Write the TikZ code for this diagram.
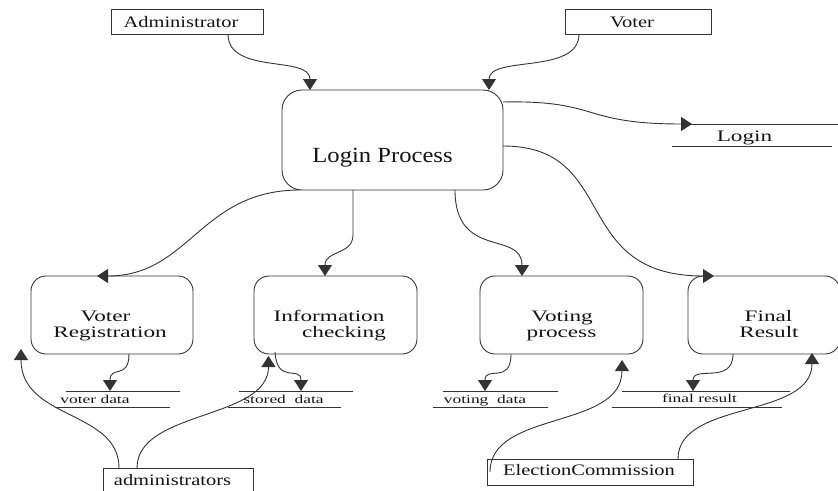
\documentclass[tikz,border=0pt]{standalone}
\usepackage{fontspec}
\setmainfont{Liberation Serif}
\newfontfamily\entfont[FakeStretch=1.28]{Liberation Serif}
\newfontfamily\procfont[FakeStretch=1.45]{Liberation Serif}
\newfontfamily\bigfont[FakeStretch=1.14]{Liberation Serif}
\usetikzlibrary{arrows.meta,calc}
\begin{document}
\begin{tikzpicture}[x=1pt,y=-1pt,
  line/.style={draw=black!80, line width=0.9pt},
  ent/.style={line, rectangle, inner sep=0pt, outer sep=0pt},
  proc/.style={line, rectangle, rounded corners=15pt, inner sep=0pt, outer sep=0pt, minimum height=78pt},
  lbl/.style={inner sep=0pt, text=black!92, anchor=base},
  entlbl/.style={lbl, font=\entfont\fontsize{16pt}{18pt}\selectfont},
  proclbl/.style={lbl, font=\procfont\fontsize{16pt}{18pt}\selectfont},
  storelbl/.style={lbl, font=\procfont\fontsize{12pt}{14pt}\selectfont},
  flow/.style={line, -{Triangle[width=14pt,length=11pt]}},
  storeline/.style={line}
]
\useasboundingbox (0,0) rectangle (838,490);

% external entities
\node[ent, minimum width=152pt, minimum height=25pt] (admin) at (187,21.5) {};
\node[entlbl] (admint) at (181,27.3) {Administrator};
\node[ent, minimum width=146pt, minimum height=25pt] (voter) at (638,21.5) {};
\node[entlbl] (votert) at (632,27.3) {Voter};
\node[ent, minimum width=150pt, minimum height=32pt] (admins) at (178,484) {};
\node[entlbl] (adminst) at (172.5,485) {administrators};
\node[ent, minimum width=206pt, minimum height=26pt] (ec) at (590,472) {};
\node[entlbl] (ect) at (589,475.5) {ElectionCommission};

% login process
\node[line, rectangle, rounded corners=20pt, inner sep=0pt, outer sep=0pt,
      minimum width=221pt, minimum height=100pt] (login) at (392.5,140) {};
\node[lbl, font=\bigfont\fontsize{21.6pt}{24pt}\selectfont] (logint) at (382.5,162) {Login Process};

% processes
\node[proc, minimum width=162pt] (vreg) at (112,315) {};
\node[proclbl] (vregt1) at (105.5,321) {Voter};
\node[proclbl] (vregt2) at (110,337) {Registration};
\node[proc, minimum width=163pt] (info) at (335.5,315) {};
\node[proclbl] (infot1) at (329,321) {Information};
\node[proclbl] (infot2) at (344,337) {checking};
\node[proc, minimum width=163pt] (vote) at (561.5,315) {};
\node[proclbl] (votet1) at (562,321) {Voting};
\node[proclbl] (votet2) at (561.5,337) {process};
\node[proc, minimum width=152pt] (final) at (764,315) {};
\node[proclbl] (finalt1) at (768.5,321) {Final};
\node[proclbl] (finalt2) at (769,337) {Result};

% data stores
\coordinate (lsin) at (692,124);
\draw[storeline] (690,124) -- (838,124);
\draw[storeline] (672,146) -- (832,146);
\node[proclbl] (lst) at (744.5,141) {Login};

\coordinate (vdin) at (110,391);
\draw[storeline] (66,391) -- (180,391);
\draw[storeline] (55,407) -- (170,407);
\node[storelbl] (vdt) at (95,403) {voter data};

\coordinate (sdin) at (301,391);
\draw[storeline] (239,391) -- (353,391);
\draw[storeline] (228,407) -- (341,407);
\node[storelbl] (sdt) at (283.5,403) {stored~~data};

\coordinate (vtin) at (485,391);
\draw[storeline] (443,391) -- (558,391);
\draw[storeline] (433,407) -- (548,407);
\node[storelbl] (vtt) at (485,403) {voting~~data};

\coordinate (frin) at (693,391);
\draw[storeline] (622,391) -- (790,391);
\draw[storeline] (612,407) -- (782,407);
\node[storelbl] (frt) at (699.5,402) {final result};

% flows
\draw[flow] ($(admin.south)+(41,0)$) .. controls +(0,41) and +(0,-35) .. ($(login.north)+(-82.5,0)$);
\draw[flow] ($(voter.south)+(-59,0)$) .. controls +(0,41) and +(0,-35) .. ($(login.north)+(96.5,0)$);
\draw[flow] ($(login.east)+(0,-38)$) .. controls +(97,-2) and +(-112,0) .. (lsin);
\draw[flow] ($(login.east)+(0,6)$) .. controls +(117,0) and +(-145,0) .. ($(final.north west)+(26,0)$);
\draw[flow] ($(login.south west)+(18,0)$) .. controls +(-100,0) and +(93,0) .. ($(vreg.north)+(-15,0)$);
\draw[flow] ($(login.south)+(-39.5,0)$) -- ++(0,45) .. controls +(0,20) and +(0,-26) .. ($(info.north)+(-10.5,0)$);
\draw[flow] ($(login.south)+(62.5,0)$) .. controls +(0,70) and +(0,-46) .. ($(vote.north)+(-39.5,0)$);

\draw[flow] ($(vreg.south)+(17,0)$) .. controls +(0,26) and +(0,-26) .. (vdin);
\draw[flow] ($(info.south)+(-60.5,-2)$) .. controls +(2,33) and +(0,-26) .. (sdin);
\draw[flow] ($(vote.south)+(-50.5,0)$) .. controls +(0,31) and +(0,-26) .. (vtin);
\draw[flow] ($(final.south)+(-31,0)$) .. controls +(0,31) and +(0,-26) .. (frin);

\draw[flow] ($(admins.north)+(-59,0)$) .. controls +(0,-58) and +(0,71) .. ($(vreg.south west)+(-10,-5)$);
\draw[flow] ($(admins.north)+(-41,0)$) .. controls +(0,-58) and +(0,64) .. ($(info.south west)+(14.5,2)$);
\draw[flow] ($(ec.west)+(3,0)$) .. controls +(0,-62) and +(0,70) .. ($(vote.south east)+(-21,6)$);
\draw[flow] ($(ec.north)+(88,0)$) .. controls +(0,-59) and +(0,66) .. ($(final.south)+(48,-1)$);
\end{tikzpicture}
\end{document}
